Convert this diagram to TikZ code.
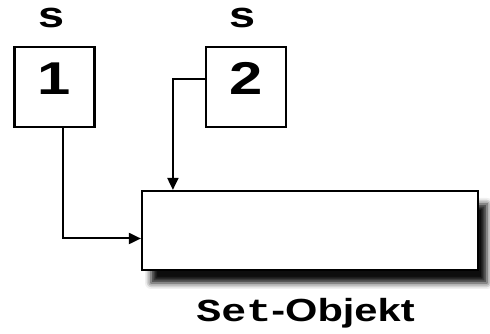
\documentclass[tikz,border=0pt]{standalone}
\usepackage{fontspec}
\setmainfont{Liberation Sans}
\newfontfamily\widesans[FakeStretch=1.3]{Liberation Sans}
\newfontfamily\widemono[FakeStretch=1.3]{Liberation Mono}
\usepackage{tikz}
\usetikzlibrary{positioning}
\usetikzlibrary{arrows.meta}
\usetikzlibrary{shadows.blur}

\tikzset{
  slot/.style={draw, line width=2.2pt, minimum width=80pt, minimum height=80pt,
    inner sep=0pt, text height=32pt, text depth=16pt,
    font=\widesans\bfseries\fontsize{46}{50}\selectfont},
  tag/.style={inner sep=0pt, font=\widesans\bfseries\fontsize{36}{40}\selectfont},
  setbox/.style={draw, line width=2.2pt, fill=white, minimum width=336pt,
    minimum height=79pt, inner sep=0pt,
    blur shadow={shadow xshift=9pt, shadow yshift=-13pt,
      shadow blur radius=6pt, shadow opacity=95}},
  link/.style={line width=2pt, -{Triangle[length=12pt,width=11pt]}}
}

\begin{document}
\begin{tikzpicture}[x=1pt, y=1pt]
\useasboundingbox (0,0) rectangle (490,334);
\node (b1) [slot] at (54.5,247) {1};
\node (b2) [slot] at (246,247) {2};
\node (s1) [tag, above=18pt of b1, xshift=-3pt] {s};
\node (s2) [tag, above=18pt of b2, xshift=-3pt] {s};
\node (obj) [setbox] at (310,103.5) {};
\node (cap) [below=27pt of obj, xshift=-4.5pt, inner sep=0pt]
  {{\widemono\bfseries\fontsize{32}{36}\selectfont Set}{\widesans\bfseries\fontsize{32}{36}\selectfont -Objekt}};
\draw[link] ([xshift=8pt]b1.south) |- ([yshift=-8pt]obj.west);
\draw[link] ([yshift=8pt]b2.west) -| ([xshift=32pt]obj.north west);
\end{tikzpicture}
\end{document}
